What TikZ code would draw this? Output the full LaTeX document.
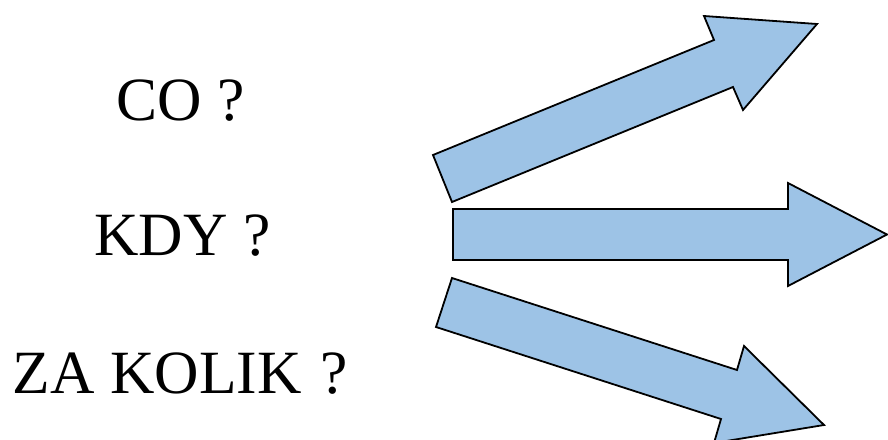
\documentclass[tikz,border=0pt]{standalone}
\usepackage{fontspec}
\setmainfont{Liberation Serif}
\definecolor{arrowblue}{RGB}{157,195,230}
\begin{document}
\begin{tikzpicture}[x=1pt,y=-1pt,
  bigarrow/.style={draw=black,fill=arrowblue,line width=1.8pt,line join=miter},
  label/.style={anchor=base,inner sep=0pt,font=\fontsize{61.5}{72}\selectfont}]
\useasboundingbox (0,0) rectangle (888,439);
\clip (0,0) rectangle (888,439);
\node[label] (co) at (181,120) {CO ?};
\node[label] (kdy) at (182.5,255) {KDY ?};
\node[label] (zakolik) at (180.5,393) {ZA KOLIK\hspace{0.06em} ?};
% upper arrow
\draw[bigarrow] (433,155) -- (714,40) -- (704,16) -- (817,24) -- (743,110) -- (733,87) -- (452,202) -- cycle;
% middle arrow
\draw[bigarrow] (453,209) -- (788,209) -- (788,183) -- (887,234.5) -- (788,286) -- (788,260) -- (453,260) -- cycle;
% lower arrow
\draw[bigarrow] (452,278) -- (737,370) -- (744,346) -- (824,425) -- (714,443) -- (721,419) -- (436,327) -- cycle;
\end{tikzpicture}
\end{document}
